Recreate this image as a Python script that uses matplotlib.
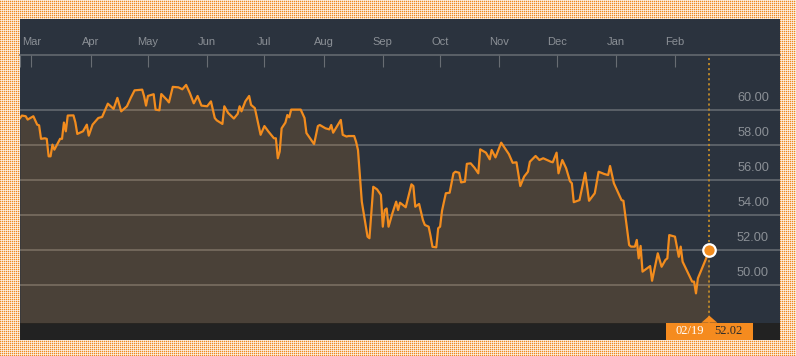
import numpy as np
import pandas as pd
import matplotlib
matplotlib.use('Agg')
import matplotlib.pyplot as plt
import matplotlib.dates as mdates
from matplotlib.patches import Rectangle, Polygon

# Data: trading day offsets from 2018-03-01 and closing prices
start = np.datetime64('2018-03-01')
day_offsets = [
    -6, -5, -3, -2, 1, 3, 4, 5, 7, 8, 9, 10, 11, 12, 15, 16, 17, 18, 19, 22,
    23, 24, 27, 29, 30, 32, 35, 37, 40, 43, 45, 47, 50, 52, 54, 58, 59, 60, 61, 64,
    65, 67, 68, 71, 72, 74, 77, 79, 81, 83, 85, 87, 89, 92, 94, 96, 97, 100, 101, 103,
    106, 108, 109, 110, 112, 114, 115, 117, 120, 122, 124, 127, 128, 129, 130, 131, 133, 134, 135, 136,
    141, 143, 144, 148, 150, 151, 154, 156, 157, 158, 162, 163, 165, 166, 169, 170, 171, 173, 176, 177,
    179, 181, 183, 184, 185, 186, 187, 189, 191, 192, 193, 196, 199, 200, 201, 203, 205, 206, 208, 209,
    210, 212, 213, 214, 215, 217, 219, 221, 222, 224, 225, 227, 228, 230, 232, 234, 235, 238, 240, 241,
    243, 246, 250, 252, 254, 256, 258, 260, 261, 264, 266, 268, 272, 273, 275, 276, 278, 280, 282, 283,
    284, 287, 290, 292, 295, 297, 300, 302, 303, 305, 307, 309, 310, 313, 314, 316, 317, 318, 319, 320,
    324, 325, 328, 330, 332, 333, 334, 337, 339, 340, 341, 346, 347, 348, 349, 353, 355,
]
prices = [
    59.55, 59.70, 59.66, 59.47, 59.66, 59.18, 59.14, 58.37, 58.40, 58.37, 57.37, 57.37, 58.04, 57.75, 58.37, 58.37, 59.30, 58.80, 59.70, 59.71,
    59.31, 58.65, 58.80, 59.18, 58.55, 59.18, 59.56, 59.62, 60.38, 60.08, 60.71, 59.94, 60.23, 60.71, 61.14, 61.18, 60.80, 60.27, 60.82, 60.92,
    60.04, 60.00, 60.93, 60.59, 60.45, 61.34, 61.31, 61.20, 61.45, 60.97, 60.40, 60.82, 60.27, 60.23, 60.51, 59.56, 59.43, 59.22, 60.23, 59.85,
    59.53, 59.80, 60.23, 59.94, 60.51, 60.82, 60.31, 60.12, 58.60, 59.10, 58.80, 58.40, 58.40, 57.26, 57.64, 58.97, 59.30, 59.73, 59.60, 60.04,
    60.04, 59.56, 58.70, 58.07, 59.10, 59.16, 58.97, 58.91, 59.16, 58.72, 59.45, 58.60, 58.50, 58.53, 58.53, 58.20, 57.73, 54.78, 52.78, 52.69,
    55.63, 55.48, 55.16, 53.35, 54.30, 54.39, 53.35, 54.11, 54.78, 54.30, 54.72, 54.46, 55.77, 55.67, 54.49, 54.65, 53.73, 53.45, 53.35, 52.82,
    52.20, 52.17, 53.26, 53.35, 54.26, 55.26, 55.29, 56.40, 56.49, 56.43, 55.88, 55.92, 56.94, 56.97, 56.72, 56.40, 57.77, 57.58, 57.20, 57.73,
    57.31, 58.15, 57.50, 57.00, 57.03, 55.67, 56.21, 56.49, 57.06, 57.39, 57.16, 57.26, 57.06, 57.03, 57.58, 56.40, 57.16, 56.69, 55.95, 55.83,
    54.75, 54.87, 56.43, 54.83, 55.26, 56.49, 56.36, 56.30, 56.82, 55.83, 55.35, 54.87, 54.83, 52.30, 52.21, 52.21, 52.59, 51.54, 52.25, 50.78,
    51.10, 50.26, 51.83, 51.06, 51.45, 51.54, 52.87, 52.78, 51.63, 52.21, 51.35, 50.21, 50.21, 49.54, 50.40, 51.45, 52.02,
]
y_ticks = [50, 52, 54, 56, 58, 60]
month_starts = pd.date_range('2018-03-01', '2019-02-01', freq='MS')
last_label = '02/19'

dates = start + np.array(day_offsets).astype('timedelta64[D]')
dates = pd.to_datetime(dates)
last_date = dates[-1]
last_price = prices[-1]

orange = '#f28c1e'
grid_col = '#686d73'
text_col = '#8b9096'
plt.rcParams['font.family'] = ['Liberation Sans', 'DejaVu Sans']

W, H = 796, 356
fig = plt.figure(figsize=(W / 100, H / 100), dpi=100)
fig.patch.set_facecolor('white')

# dotted orange backdrop (soft dots on a 2px grid)
wgt = np.zeros((H, W))
wgt[1::2, ::2] = 1.0
wgt[::2, ::2] = 0.35
wgt[1::2, 1::2] = 0.35
wgt[::2, 1::2] = 0.12
dot_rgb = np.array(matplotlib.colors.to_rgb('#ef8a22'))
pat = 1 - wgt[..., None] * (1 - dot_rgb)
fig.figimage(pat, xo=0, yo=0, zorder=0)

# dark panel
bg = fig.add_axes([20 / W, (H - 340) / H, 760 / W, 321 / H], zorder=1)
bg.set_facecolor('#2b333e')
bg.set_xticks([])
bg.set_yticks([])
for s in bg.spines.values():
    s.set_visible(False)
bg.add_patch(Rectangle((0, 0), 1, 17.3 / 321, transform=bg.transAxes, color='#222222', lw=0))

# main chart axes
ax = fig.add_axes([20 / W, (H - 322.7) / H, 760 / W, 267.7 / H], zorder=2)
ax.patch.set_alpha(0)
ax.set_xlim(start - np.timedelta64(6, 'D'), start + np.timedelta64(392, 'D'))
ax.set_ylim(47.863, 63.16)

for v in y_ticks:
    ax.axhline(v, color=grid_col, lw=1.1, zorder=1)
    ax.annotate(f'{v:.2f}', xy=(0.9855, v), xycoords=('axes fraction', 'data'),
                xytext=(0, 9), textcoords='offset points', ha='right', va='center',
                color=text_col, fontsize=9.2)

ax.fill_between(dates, prices, 47.863, color='#f0901e', alpha=0.16, lw=0, zorder=2)
ax.plot(dates, prices, color=orange, lw=1.6, zorder=3, solid_joinstyle='round')

ax.axvline(last_date, color='#c08a2a', lw=1.3, ls=(0, (1.2, 1.6)), zorder=2)
ax.plot([last_date], [last_price], 'o', ms=9, mfc=orange, mec='white', mew=1.6, zorder=5, clip_on=False)

# month ticks on top
ax.xaxis.tick_top()
ax.set_xticks(month_starts)
ax.xaxis.set_major_formatter(mdates.DateFormatter('%b'))
ax.tick_params(axis='x', direction='in', length=8.6, width=0.8, color=grid_col,
               labelcolor=text_col, labelsize=8, pad=6)
ax.set_xticks([dates[0]], minor=True)
ax.tick_params(axis='x', which='minor', direction='in', length=8.6, width=0.8, color=grid_col, top=True, bottom=False)
ax.set_yticks([])
for k in ['left', 'right', 'bottom']:
    ax.spines[k].set_visible(False)
ax.spines['top'].set_color(grid_col)
ax.spines['top'].set_linewidth(1.1)

# last value label in the bottom strip
xt = ax.get_xaxis_transform()
ld = mdates.date2num(last_date)
box_days = 45.4
ax.add_patch(Rectangle((ld - box_days / 2, -17.3 / 267.7), box_days, 17.3 / 267.7,
                       transform=xt, color='#f58b1f', lw=0, clip_on=False, zorder=6))
ax.add_patch(Polygon([(ld - 4.2, 0), (ld + 4.2, 0), (ld, 7 / 267.7)], closed=True,
                     transform=xt, color='#f58b1f', lw=0, clip_on=False, zorder=6))
ax.annotate(last_label, xy=(ld, 0), xycoords=xt, xytext=(-14.2, -6.3), textcoords='offset points',
            ha='center', va='center', color='white', fontsize=9, family='Liberation Serif', zorder=7)
ax.annotate(f'{last_price:.2f}', xy=(ld, 0), xycoords=xt, xytext=(13.7, -6.3), textcoords='offset points',
            ha='center', va='center', color='#2a2a2a', fontsize=9, family='Liberation Serif', zorder=7)

fig.savefig('out.png', dpi=100)
